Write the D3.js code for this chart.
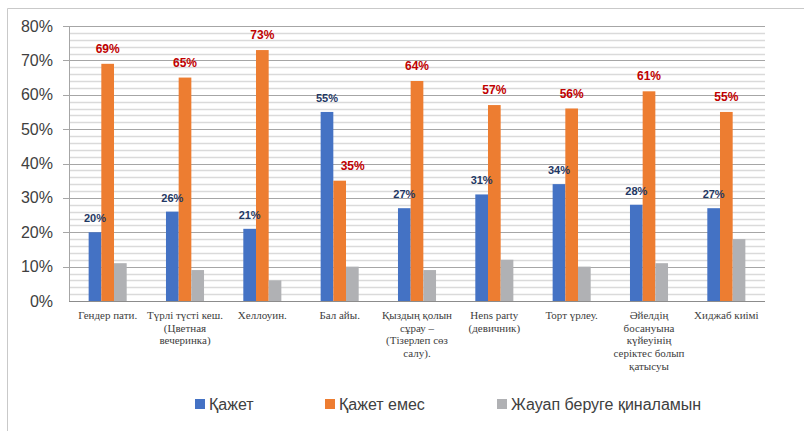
<!DOCTYPE html>
<html>
<head>
<meta charset="utf-8">
<script src="https://d3js.org/d3.v7.min.js"></script>
<style>
  body { margin: 0; background: #fff; }
  svg { display: block; }
</style>
</head>
<body>
<svg width="804" height="431" id="chart"></svg>
<script>
// data
var categories = [
  ["Гендер пати."],
  ["Түрлі түсті кеш.", "(Цветная", "вечеринка)"],
  ["Хеллоуин."],
  ["Бал айы."],
  ["Қыздың қолын", "сұрау –", "(Тізерлеп сөз", "салу)."],
  ["Hens party", "(девичник)"],
  ["Торт үрлеу."],
  ["Әйелдің", "босануына", "күйеуінің", "серіктес болып", "қатысуы"],
  ["Хиджаб киімі"]
];
var seriesNames = ["Қажет", "Қажет емес", "Жауап беруге қиналамын"];
var needed    = [20, 26, 21, 55, 27, 31, 34, 28, 27];
var notNeeded = [69, 65, 73, 35, 64, 57, 56, 61, 55];
var hardToSay = [11, 9, 6, 10, 9, 12, 10, 11, 18];
var yTicks = [0, 10, 20, 30, 40, 50, 60, 70, 80];

var colors = ["#4472C4", "#ED7D31", "#B0B1B4"];
var series = [needed, notNeeded, hardToSay];

var svg = d3.select("#chart");

// outer chart frame (runs off right/bottom edge)
svg.append("path")
  .attr("d", "M7.5,440 V8.5 H810")
  .attr("fill", "none")
  .attr("stroke", "#c9c9c9")
  .attr("stroke-width", 1);

var pLeft = 69, pRight = 765, pTop = 26, pBottom = 301;

var x = d3.scaleBand().domain(d3.range(categories.length)).range([pLeft, pRight]);
var y = d3.scaleLinear().domain([0, 80]).range([pBottom, pTop]);

var barW = x.bandwidth() * 0.164;
var groupW = barW * 3;

// minor gridlines every 2%
var g = svg.append("g");
g.selectAll("line.minor")
  .data(d3.range(0, 81, 2).filter(function(d) { return d % 10 != 0; }))
  .enter().append("line")
  .attr("x1", pLeft).attr("x2", pRight)
  .attr("y1", function(d) { return Math.round(y(d)) + 0.5; })
  .attr("y2", function(d) { return Math.round(y(d)) + 0.5; })
  .attr("stroke", "#dadada")
  .attr("stroke-width", 1.5);

// major gridlines with small outside tick
g.selectAll("line.major")
  .data(yTicks.slice(1))
  .enter().append("line")
  .attr("x1", pLeft - 6).attr("x2", pRight)
  .attr("y1", function(d) { return Math.round(y(d)) + 0.5; })
  .attr("y2", function(d) { return Math.round(y(d)) + 0.5; })
  .attr("stroke", "#a6a6a6")
  .attr("stroke-width", 1);

// y axis line
svg.append("line")
  .attr("x1", pLeft + 0.5).attr("x2", pLeft + 0.5)
  .attr("y1", pTop).attr("y2", pBottom)
  .attr("stroke", "#a6a6a6");

// y tick labels
svg.append("g").selectAll("text")
  .data(yTicks)
  .enter().append("text")
  .attr("x", 53)
  .attr("y", function(d) { return y(d); })
  .attr("dy", "0.35em")
  .attr("text-anchor", "end")
  .style("font-family", "Liberation Sans, Arial, sans-serif")
  .style("font-size", "16px")
  .style("fill", "#404040")
  .text(function(d) { return d + "%"; });

// bars
series.forEach(function(vals, s) {
  svg.append("g").selectAll("rect")
    .data(vals)
    .enter().append("rect")
    .attr("x", function(d, i) { return x(i) + x.bandwidth() / 2 - groupW / 2 + s * barW; })
    .attr("y", function(d) { return y(d); })
    .attr("width", barW)
    .attr("height", function(d) { return y(0) - y(d); })
    .attr("fill", colors[s]);
});

// x axis line
svg.append("line")
  .attr("x1", pLeft).attr("x2", pRight)
  .attr("y1", pBottom + 0.5).attr("y2", pBottom + 0.5)
  .attr("stroke", "#8c8c8c")
  .attr("stroke-width", 1.2);

// data labels: blue series (navy) and orange series (red)
svg.append("g").selectAll("text")
  .data(needed)
  .enter().append("text")
  .attr("x", function(d, i) { return x(i) + x.bandwidth() / 2 - groupW / 2 + barW / 2; })
  .attr("y", function(d) { return y(d) - 10; })
  .attr("text-anchor", "middle")
  .style("font-family", "Liberation Sans, Arial, sans-serif")
  .style("font-weight", "bold")
  .style("font-size", "11px")
  .style("fill", "#1F3864")
  .text(function(d) { return d + "%"; });

svg.append("g").selectAll("text")
  .data(notNeeded)
  .enter().append("text")
  .attr("x", function(d, i) { return x(i) + x.bandwidth() / 2 + (i == 3 ? 13 : 0); })
  .attr("y", function(d) { return y(d) - 11; })
  .attr("text-anchor", "middle")
  .style("font-family", "Liberation Sans, Arial, sans-serif")
  .style("font-weight", "bold")
  .style("font-size", "12px")
  .style("fill", "#C00000")
  .text(function(d) { return d + "%"; });

// category labels
var cl = svg.append("g").selectAll("text")
  .data(categories)
  .enter().append("text")
  .attr("x", function(d, i) { return x(i) + x.bandwidth() / 2; })
  .attr("y", 319)
  .attr("text-anchor", "middle")
  .style("font-family", "Liberation Serif, Times New Roman, serif")
  .style("font-size", "11px")
  .style("fill", "#404040");
cl.selectAll("tspan")
  .data(function(d) { return d; })
  .enter().append("tspan")
  .attr("x", function() { return d3.select(this.parentNode).attr("x"); })
  .attr("dy", function(d, i) { return i == 0 ? 0 : 12.7; })
  .text(function(d) { return d; });

// legend
var legendX = [195, 325, 497];
var lg = svg.append("g").selectAll("g")
  .data(seriesNames)
  .enter().append("g")
  .attr("transform", function(d, i) { return "translate(" + legendX[i] + ",399)"; });
lg.append("rect")
  .attr("width", 10).attr("height", 10)
  .attr("fill", function(d, i) { return colors[i]; });
lg.append("text")
  .attr("x", 14)
  .attr("y", 5)
  .attr("dy", "0.35em")
  .style("font-family", "Liberation Sans, Arial, sans-serif")
  .style("font-size", "16px")
  .style("fill", "#404040")
  .text(function(d) { return d; });
</script>
</body>
</html>
